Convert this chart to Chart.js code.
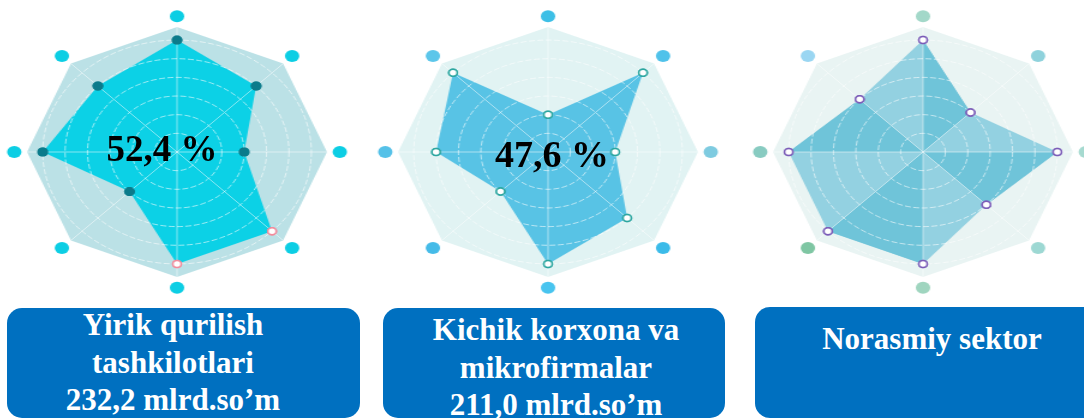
<!DOCTYPE html>
<html>
<head>
<meta charset="utf-8">
<script src="https://cdn.jsdelivr.net/npm/chart.js@4.4.1/dist/chart.umd.min.js"></script>
<style>
    body { margin: 0; width: 1084px; height: 419px; background: #fff; position: relative; overflow: hidden;
           font-family: "Liberation Serif", "Times New Roman", serif; }
    .radar { position: absolute; top: 7px; width: 290px; height: 290px;
             transform: scaleX(1.2); transform-origin: 145px 145px; }
    .box { position: absolute; background: #0070c0; border-radius: 15px; }
    .label { position: absolute; width: 360px; color: #fff; font-weight: bold; font-size: 31px;
             line-height: 37.5px; text-align: center; white-space: nowrap; }
    .pct { position: absolute; width: 200px; font-weight: bold; line-height: 1; text-align: center;
           color: #000; white-space: nowrap; }
</style>
</head>
<body>
<div class="radar" style="left:32px"><canvas id="c1" width="290" height="290"></canvas></div>
<div class="radar" style="left:403px"><canvas id="c2" width="290" height="290"></canvas></div>
<div class="radar" style="left:778px"><canvas id="c3" width="290" height="290"></canvas></div>

<div class="pct" style="left:62px; top:130px; font-size:37px">52,4 %</div>
<div class="pct" style="left:452px; top:135px; font-size:38px">47,6 %</div>

<div class="box" style="left:7px; top:308px; width:353px; height:110px"></div>
<div class="box" style="left:383px; top:308px; width:342px; height:110px"></div>
<div class="box" style="left:755px; top:307px; width:345px; height:111px"></div>

<div class="label" style="left:-7px; top:306px">Yirik qurilish<br>tashkilotlari<br>232,2 mlrd.so’m</div>
<div class="label" style="left:376px; top:311px">Kichik korxona va<br>mikrofirmalar<br>211,0 mlrd.so’m</div>
<div class="label" style="left:752px; top:320px">Norasmiy sektor</div>

<script>
// eight unlabeled axes, rings at 1..6, octagon frame just past the last ring
const axes = ['1', '2', '3', '4', '5', '6', '7', '8'];
const ringTicks = [0, 1, 2, 3, 4, 5, 6];
const frameValue = 6.7;
const markerValue = 7.27;

const largeFirms = [6, 5, 3, 6, 6, 3, 6, 5];
const smallFirms = [2, 6, 3, 5, 6, 3, 5, 6];
const informalSector = [6, 3, 6, 4, 6, 6, 6, 4];

const largeMarkers = ['#0ccee4', '#0ccee4', '#0ccee4', '#0ccee4', '#0ccee4', '#0ccee4', '#0ccee4', '#0ccee4'];
const smallMarkers = ['#3dbfe6', '#50c2ea', '#7ecbe0', '#3bbbe9', '#48c4ef', '#45bbe8', '#55c1e8', '#5cc6ea'];
const informalMarkers = ['#a3d8c9', '#8fd2dc', '#a6dad0', '#9dd8d3', '#9fd5bf', '#7fc6a3', '#88cbc1', '#9ad6f2'];

// redraw the value points after the grid so the spokes do not cross them
const pointsOnTop = {
    id: 'pointsOnTop',
    afterDraw(chart) {
        chart.getDatasetMeta(0).data.forEach(pt => pt.draw(chart.ctx, chart.chartArea));
    }
};

function createRadar(id, cfg) {
    const datasets = [{
        data: cfg.values,
        showLine: false,
        fill: false,
        borderWidth: 0,
        pointRadius: cfg.pointRadius,
        pointBackgroundColor: cfg.pointFill,
        pointBorderColor: cfg.pointBorder,
        pointBorderWidth: cfg.pointBorderWidth
    }];
    (cfg.sectors || []).forEach(s => datasets.push({
        data: s, fill: true, backgroundColor: cfg.sectorColor, borderWidth: 0, pointRadius: 0
    }));
    datasets.push({ data: cfg.values, fill: true, backgroundColor: cfg.fillColor, borderWidth: 0, pointRadius: 0 });
    datasets.push({ data: axes.map(() => frameValue), fill: true, backgroundColor: cfg.frameColor, borderWidth: 0, pointRadius: 0 });
    datasets.push({
        data: axes.map(() => markerValue),
        showLine: false,
        fill: false,
        borderWidth: 0,
        pointRadius: 6,
        pointHoverRadius: 14,
        pointBorderWidth: 0,
        pointBackgroundColor: cfg.markerColors,
        clip: false
    });

    return new Chart(document.getElementById(id), {
        type: 'radar',
        data: { labels: axes, datasets: datasets },
        options: {
            responsive: false,
            animation: false,
            events: [],
            layout: { padding: 20 },
            plugins: {
                legend: { display: false },
                tooltip: { enabled: false }
            },
            scales: {
                r: {
                    min: 0,
                    max: frameValue,
                    bounds: 'data',
                    afterBuildTicks: s => { s.ticks = ringTicks.map(v => ({ value: v })); },
                    ticks: { display: false },
                    pointLabels: { display: false },
                    grid: { circular: true, color: 'rgba(255,255,255,0.6)', lineWidth: 1, z: 1 },
                    border: { dash: [5, 2] },
                    angleLines: { color: 'rgba(255,255,255,0.5)', lineWidth: 1 }
                }
            }
        },
        plugins: [pointsOnTop]
    });
}

createRadar('c1', {
    values: largeFirms,
    fillColor: '#0cd1e6',
    frameColor: '#bbe1e6',
    markerColors: largeMarkers,
    pointRadius: [4.5, 4.5, 4.5, 3.5, 3.5, 4.5, 4.5, 4.5],
    pointFill: ['#0b7b8b', '#0b7b8b', '#0b7b8b', '#fff', '#fff', '#0b7b8b', '#0b7b8b', '#0b7b8b'],
    pointBorder: ['#0b7b8b', '#0b7b8b', '#0b7b8b', '#f28b9c', '#f28b9c', '#0b7b8b', '#0b7b8b', '#0b7b8b'],
    pointBorderWidth: [0, 0, 0, 1.5, 1.5, 0, 0, 0]
});

createRadar('c2', {
    values: smallFirms,
    fillColor: '#58c3e5',
    frameColor: '#e1f3f3',
    markerColors: smallMarkers,
    pointRadius: 3.5,
    pointFill: '#fff',
    pointBorder: '#2ca6a0',
    pointBorderWidth: 1.5
});

// alternate sectors of the informal chart are shaded darker
createRadar('c3', {
    values: informalSector,
    fillColor: '#93d1e1',
    sectorColor: '#6fc4d9',
    sectors: [
        informalSector.map((v, i) => (i % 4 < 2 ? v : 0)),
        informalSector.map((v, i) => (i % 4 >= 2 ? v : 0))
    ],
    frameColor: '#e9f4f3',
    markerColors: informalMarkers,
    pointRadius: 3.5,
    pointFill: '#fff',
    pointBorder: '#7b5cb8',
    pointBorderWidth: 1.5
});
</script>
</body>
</html>
